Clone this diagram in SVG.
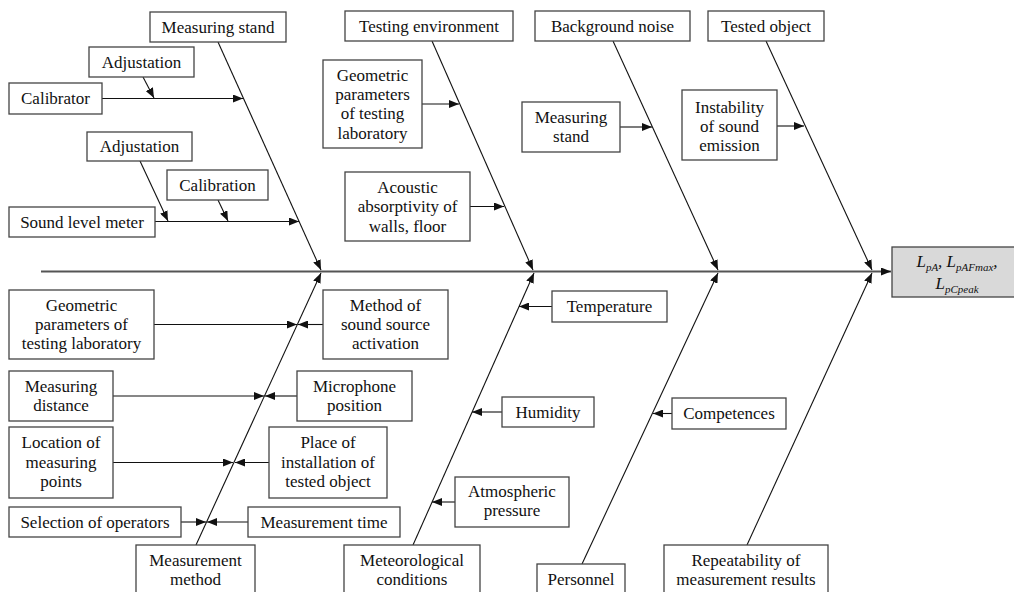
<svg xmlns="http://www.w3.org/2000/svg" width="1014" height="592" viewBox="0 0 1014 592">
<defs>
<marker id="ah" markerUnits="userSpaceOnUse" markerWidth="11" markerHeight="8" refX="10" refY="4" orient="auto">
<path d="M0,0 L10,4 L0,8 z" fill="#111"/>
</marker>
<style>
.box{fill:#fff;stroke:#444;stroke-width:1.3}
.res{fill:#d9d9d9;stroke:#444;stroke-width:1.3}
.t{font-family:"Liberation Serif","Times New Roman",serif;font-size:17px;fill:#111;text-anchor:middle}
.ti{font-family:"Liberation Serif","Times New Roman",serif;font-style:italic;font-size:17px;fill:#111;text-anchor:middle}
.sub{font-size:11px}
.c{stroke:#111;stroke-width:1.1;fill:none;marker-end:url(#ah)}
.spine{stroke:#555;stroke-width:1.8;fill:none;marker-end:url(#ah)}
</style>
</defs>
<rect width="1014" height="592" fill="#fff"/>
<g id="connectors">
<line class="spine" x1="41" y1="271.5" x2="891" y2="271.5"/>
<line class="c" x1="218" y1="42" x2="321" y2="270"/>
<line class="c" x1="432" y1="41" x2="533" y2="270"/>
<line class="c" x1="613" y1="41" x2="718" y2="270"/>
<line class="c" x1="766" y1="41" x2="872" y2="270"/>
<line class="c" x1="196" y1="545" x2="321" y2="273"/>
<line class="c" x1="413" y1="545" x2="534" y2="273"/>
<line class="c" x1="582" y1="564" x2="718" y2="273"/>
<line class="c" x1="747" y1="545" x2="872" y2="273"/>
<line class="c" x1="143" y1="77" x2="154" y2="98"/>
<line class="c" x1="102" y1="98.5" x2="243" y2="98.5"/>
<line class="c" x1="140" y1="161" x2="168" y2="221"/>
<line class="c" x1="218" y1="200" x2="228" y2="221"/>
<line class="c" x1="155" y1="221.5" x2="299" y2="221.5"/>
<line class="c" x1="422" y1="104" x2="459" y2="104"/>
<line class="c" x1="470" y1="206.5" x2="504" y2="206.5"/>
<line class="c" x1="620" y1="127" x2="652" y2="127"/>
<line class="c" x1="777" y1="126" x2="804" y2="126"/>
<line class="c" x1="154" y1="324.5" x2="297" y2="324.5"/>
<line class="c" x1="323" y1="324.5" x2="298" y2="324.5"/>
<line class="c" x1="113" y1="396" x2="264" y2="396"/>
<line class="c" x1="297" y1="396" x2="265" y2="396"/>
<line class="c" x1="113" y1="462.5" x2="233" y2="462.5"/>
<line class="c" x1="269" y1="462.5" x2="235" y2="462.5"/>
<line class="c" x1="181" y1="522" x2="206" y2="522"/>
<line class="c" x1="248" y1="522" x2="207" y2="522"/>
<line class="c" x1="552" y1="306.5" x2="519" y2="306.5"/>
<line class="c" x1="502" y1="412" x2="472" y2="412"/>
<line class="c" x1="455" y1="502" x2="432" y2="502"/>
<line class="c" x1="672" y1="413.5" x2="653" y2="413.5"/>
</g>
<g id="n-measuring-stand"><rect class="box" x="150" y="12" width="136" height="30"/><text class="t" x="218" y="32.5">Measuring stand</text></g>
<g id="n-testing-environment"><rect class="box" x="345" y="11" width="168" height="30"/><text class="t" x="429" y="32">Testing environment</text></g>
<g id="n-background-noise"><rect class="box" x="535" y="11" width="155" height="30"/><text class="t" x="612.5" y="32">Background noise</text></g>
<g id="n-tested-object"><rect class="box" x="708" y="11" width="116" height="30"/><text class="t" x="766" y="32">Tested object</text></g>
<g id="n-adjustation-1"><rect class="box" x="89" y="47" width="105" height="30"/><text class="t" x="141.5" y="68">Adjustation</text></g>
<g id="n-calibrator"><rect class="box" x="9" y="83" width="93" height="31"/><text class="t" x="55.5" y="104">Calibrator</text></g>
<g id="n-adjustation-2"><rect class="box" x="87" y="132" width="105" height="29"/><text class="t" x="139.5" y="152">Adjustation</text></g>
<g id="n-calibration"><rect class="box" x="167" y="170" width="101" height="30"/><text class="t" x="217.5" y="191">Calibration</text></g>
<g id="n-sound-level-meter"><rect class="box" x="9" y="207" width="146" height="30"/><text class="t" x="82" y="228">Sound level meter</text></g>
<g id="n-geometric-top"><rect class="box" x="323" y="60" width="99" height="88"/><text class="t"><tspan x="372.5" y="80.5">Geometric</tspan><tspan x="372.5" y="100">parameters</tspan><tspan x="372.5" y="119">of testing</tspan><tspan x="372.5" y="138.5">laboratory</tspan></text></g>
<g id="n-acoustic"><rect class="box" x="345" y="172" width="125" height="69"/><text class="t"><tspan x="407.5" y="192.5">Acoustic</tspan><tspan x="407.5" y="212">absorptivity of</tspan><tspan x="407.5" y="231.5">walls, floor</tspan></text></g>
<g id="n-measuring-stand-2"><rect class="box" x="522" y="102" width="98" height="50"/><text class="t"><tspan x="571" y="122.5">Measuring</tspan><tspan x="571" y="141.5">stand</tspan></text></g>
<g id="n-instability"><rect class="box" x="682" y="90" width="95" height="70"/><text class="t"><tspan x="729.5" y="112.5">Instability</tspan><tspan x="729.5" y="131.5">of sound</tspan><tspan x="729.5" y="150.5">emission</tspan></text></g>
<g id="n-result"><rect class="res" x="892" y="247" width="132" height="50"/><text class="ti"><tspan x="957" y="267">L<tspan class="sub" dy="4">pA</tspan><tspan dy="-4">, L</tspan><tspan class="sub" dy="4">pAFmax</tspan><tspan dy="-4">,</tspan></tspan><tspan x="957" y="289">L<tspan class="sub" dy="4">pCpeak</tspan></tspan></text></g>
<g id="n-measurement-method"><rect class="box" x="136" y="545" width="119" height="60"/><text class="t"><tspan x="195.5" y="565.5">Measurement</tspan><tspan x="195.5" y="584.5">method</tspan></text></g>
<g id="n-geometric-bottom"><rect class="box" x="9" y="290" width="145" height="69"/><text class="t"><tspan x="81.5" y="310.5">Geometric</tspan><tspan x="81.5" y="329.5">parameters of</tspan><tspan x="81.5" y="348.5">testing laboratory</tspan></text></g>
<g id="n-method-sound"><rect class="box" x="323" y="290" width="125" height="69"/><text class="t"><tspan x="385.5" y="310.5">Method of</tspan><tspan x="385.5" y="329.5">sound source</tspan><tspan x="385.5" y="348.5">activation</tspan></text></g>
<g id="n-measuring-distance"><rect class="box" x="9" y="371" width="104" height="50"/><text class="t"><tspan x="61" y="391.5">Measuring</tspan><tspan x="61" y="410.5">distance</tspan></text></g>
<g id="n-microphone"><rect class="box" x="297" y="371" width="115" height="50"/><text class="t"><tspan x="354.5" y="391.5">Microphone</tspan><tspan x="354.5" y="410.5">position</tspan></text></g>
<g id="n-location"><rect class="box" x="9" y="427" width="104" height="71"/><text class="t"><tspan x="61" y="448">Location of</tspan><tspan x="61" y="467.5">measuring</tspan><tspan x="61" y="487">points</tspan></text></g>
<g id="n-place"><rect class="box" x="269" y="427" width="118" height="71"/><text class="t"><tspan x="328" y="448">Place of</tspan><tspan x="328" y="467.5">installation of</tspan><tspan x="328" y="487">tested object</tspan></text></g>
<g id="n-selection"><rect class="box" x="9" y="507" width="172" height="30"/><text class="t" x="95" y="527.5">Selection of operators</text></g>
<g id="n-measurement-time"><rect class="box" x="248" y="507" width="152" height="30"/><text class="t" x="324" y="527.5">Measurement time</text></g>
<g id="n-meteorological"><rect class="box" x="344" y="545" width="136" height="60"/><text class="t"><tspan x="412" y="565.5">Meteorological</tspan><tspan x="412" y="584.5">conditions</tspan></text></g>
<g id="n-temperature"><rect class="box" x="552" y="291" width="115" height="31"/><text class="t" x="609.5" y="312">Temperature</text></g>
<g id="n-humidity"><rect class="box" x="502" y="397" width="92" height="30"/><text class="t" x="548" y="418">Humidity</text></g>
<g id="n-atmospheric"><rect class="box" x="455" y="477" width="114" height="50"/><text class="t"><tspan x="512" y="497">Atmospheric</tspan><tspan x="512" y="516">pressure</tspan></text></g>
<g id="n-personnel"><rect class="box" x="537" y="564" width="88" height="40"/><text class="t" x="581" y="585">Personnel</text></g>
<g id="n-competences"><rect class="box" x="672" y="398" width="114" height="31"/><text class="t" x="729" y="419">Competences</text></g>
<g id="n-repeatability"><rect class="box" x="664" y="545" width="164" height="60"/><text class="t"><tspan x="746" y="565.5">Repeatability of</tspan><tspan x="746" y="584.5">measurement results</tspan></text></g>
</svg>
